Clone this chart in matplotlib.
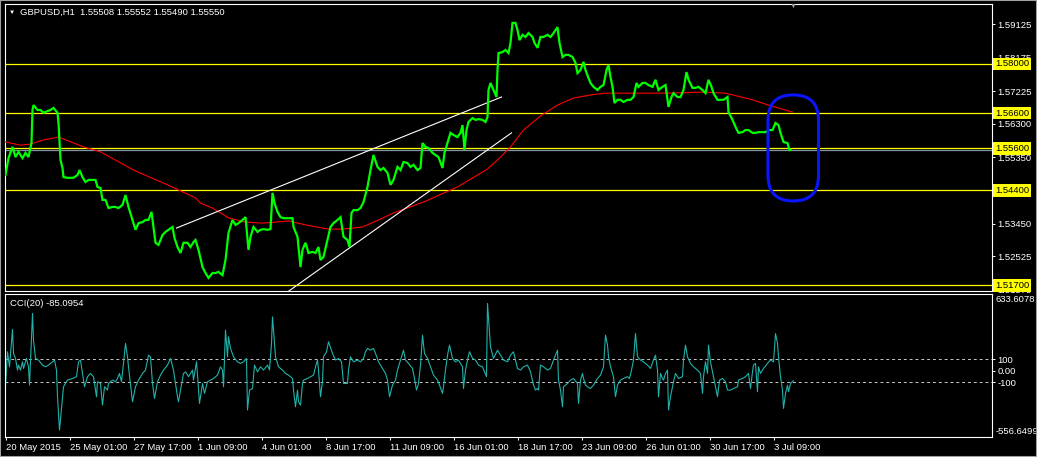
import matplotlib
matplotlib.use("Agg")
import matplotlib.pyplot as plt
from matplotlib.patches import FancyBboxPatch, Rectangle
from matplotlib.transforms import IdentityTransform, blended_transform_factory

plt.rcParams["font.family"] = ["Liberation Sans", "DejaVu Sans"]

# GBPUSD H1, (bar index, price)
price_points = [
    (0, 1.5484), (3, 1.5532), (7, 1.5564), (10, 1.5535), (13, 1.5550), (17, 1.5532),
    (20, 1.5547), (23, 1.5535), (26, 1.5575), (27, 1.5669), (28, 1.5683), (32, 1.5669),
    (35, 1.5669), (38, 1.5661), (42, 1.5666), (45, 1.5669), (48, 1.5675), (52, 1.5661),
    (53, 1.5632), (55, 1.5527), (57, 1.5504), (58, 1.5478), (62, 1.5476), (65, 1.5476),
    (68, 1.5476), (72, 1.5484), (74, 1.5498), (77, 1.5478), (80, 1.5464), (83, 1.5470),
    (87, 1.5470), (90, 1.5470), (92, 1.5450), (95, 1.5447), (97, 1.5413), (100, 1.5413),
    (103, 1.5390), (107, 1.5393), (110, 1.5393), (113, 1.5390), (117, 1.5399), (120, 1.5427),
    (123, 1.5393), (127, 1.5356), (130, 1.5328), (133, 1.5347), (137, 1.5350), (140, 1.5356),
    (143, 1.5356), (146, 1.5379), (148, 1.5336), (150, 1.5291), (153, 1.5285), (157, 1.5313),
    (160, 1.5322), (163, 1.5328), (167, 1.5336), (169, 1.5305), (172, 1.5279), (175, 1.5262),
    (178, 1.5291), (182, 1.5291), (185, 1.5279), (188, 1.5293), (190, 1.5299), (193, 1.5271),
    (197, 1.5222), (200, 1.5205), (203, 1.5191), (207, 1.5205), (210, 1.5205), (213, 1.5208),
    (217, 1.5199), (220, 1.5242), (223, 1.5319), (227, 1.5356), (230, 1.5342), (233, 1.5347),
    (237, 1.5356), (240, 1.5364), (243, 1.5271), (245, 1.5308), (248, 1.5336), (252, 1.5322),
    (255, 1.5328), (258, 1.5330), (262, 1.5328), (265, 1.5330), (267, 1.5433), (269, 1.5404),
    (272, 1.5379), (275, 1.5364), (278, 1.5361), (283, 1.5361), (287, 1.5361), (288, 1.5336),
    (292, 1.5308), (293, 1.5279), (295, 1.5222), (297, 1.5271), (300, 1.5291), (303, 1.5262),
    (307, 1.5265), (310, 1.5262), (313, 1.5279), (315, 1.5242), (318, 1.5251), (322, 1.5299),
    (325, 1.5336), (328, 1.5347), (332, 1.5356), (335, 1.5364), (338, 1.5308), (342, 1.5299),
    (344, 1.5279), (346, 1.5376), (348, 1.5384), (352, 1.5384), (355, 1.5390), (358, 1.5407),
    (362, 1.5450), (365, 1.5498), (368, 1.5541), (372, 1.5507), (375, 1.5498), (378, 1.5504),
    (382, 1.5490), (385, 1.5456), (388, 1.5470), (392, 1.5507), (395, 1.5498), (398, 1.5521),
    (402, 1.5518), (405, 1.5507), (408, 1.5513), (412, 1.5498), (415, 1.5504), (417, 1.5575),
    (420, 1.5564), (423, 1.5561), (427, 1.5547), (430, 1.5541), (433, 1.5535), (437, 1.5504),
    (439, 1.5547), (442, 1.5575), (445, 1.5604), (448, 1.5598), (452, 1.5592), (455, 1.5604),
    (457, 1.5626), (459, 1.5555), (461, 1.5612), (463, 1.5635), (467, 1.5646), (470, 1.5641),
    (473, 1.5643), (477, 1.5641), (480, 1.5635), (482, 1.5649), (483, 1.5726), (485, 1.5746),
    (488, 1.5726), (491, 1.5706), (492, 1.5783), (493, 1.5831), (497, 1.5834), (500, 1.5840),
    (503, 1.5831), (505, 1.5860), (507, 1.5917), (510, 1.5917), (512, 1.5897), (514, 1.5868),
    (517, 1.5883), (520, 1.5877), (523, 1.5888), (527, 1.5877), (529, 1.5860), (532, 1.5846),
    (535, 1.5877), (538, 1.5877), (542, 1.5883), (545, 1.5877), (548, 1.5888), (552, 1.5905),
    (554, 1.5860), (557, 1.5820), (560, 1.5826), (563, 1.5826), (567, 1.5820), (570, 1.5803),
    (572, 1.5774), (575, 1.5783), (578, 1.5806), (580, 1.5783), (583, 1.5760), (585, 1.5746),
    (588, 1.5735), (592, 1.5726), (595, 1.5735), (598, 1.5740), (601, 1.5783), (603, 1.5797),
    (605, 1.5763), (607, 1.5735), (609, 1.5689), (612, 1.5698), (615, 1.5698), (618, 1.5692),
    (622, 1.5698), (625, 1.5698), (628, 1.5706), (631, 1.5746), (633, 1.5735), (637, 1.5746),
    (640, 1.5746), (643, 1.5740), (647, 1.5735), (650, 1.5755), (653, 1.5726), (657, 1.5735),
    (660, 1.5740), (663, 1.5678), (666, 1.5706), (668, 1.5717), (672, 1.5706), (675, 1.5706),
    (678, 1.5726), (681, 1.5777), (683, 1.5755), (687, 1.5732), (690, 1.5732), (693, 1.5735),
    (697, 1.5726), (700, 1.5717), (703, 1.5755), (706, 1.5735), (708, 1.5717), (712, 1.5698),
    (715, 1.5698), (718, 1.5698), (722, 1.5706), (723, 1.5663), (727, 1.5641), (730, 1.5621),
    (733, 1.5604), (737, 1.5606), (740, 1.5612), (743, 1.5612), (747, 1.5604), (750, 1.5604),
    (753, 1.5606), (757, 1.5606), (760, 1.5606), (763, 1.5612), (767, 1.5612), (770, 1.5632),
    (773, 1.5626), (775, 1.5604), (778, 1.5578), (782, 1.5575), (784, 1.5555), (785, 1.5555),
]

# red moving average
ma_points = [
    (0, 1.5578), (15, 1.5569), (25, 1.5572), (38, 1.5584), (53, 1.5592), (78, 1.5564),
    (95, 1.5550), (128, 1.5498), (162, 1.5456), (190, 1.5419), (195, 1.5404), (207, 1.5390),
    (223, 1.5362), (240, 1.5350), (257, 1.5347), (283, 1.5353), (300, 1.5342), (323, 1.5330),
    (337, 1.5330), (357, 1.5336), (373, 1.5356), (388, 1.5376), (418, 1.5407), (452, 1.5450),
    (482, 1.5501), (495, 1.5535), (505, 1.5564), (518, 1.5612), (535, 1.5652), (552, 1.5683),
    (568, 1.5703), (585, 1.5712), (600, 1.5717), (630, 1.5717), (663, 1.5717), (697, 1.5720),
    (720, 1.5717), (747, 1.5698), (763, 1.5683), (787, 1.5663),
]

# CCI(20)
cci_points = [
    (0, -137), (2, 163), (4, 34), (7, 355), (8, 149), (10, 106), (12, 6), (13, 49), (15, 6),
    (17, 77), (18, 20), (21, 106), (23, 34), (24, -123), (27, 492), (28, 263), (30, 106),
    (33, 92), (37, 49), (40, 34), (43, 49), (47, 77), (49, 92), (51, 6), (52, -223), (54, -509),
    (57, -223), (58, -137), (62, -80), (67, -66), (71, -51), (73, 77), (75, 92), (77, -23),
    (79, -137), (82, -51), (85, -23), (88, -51), (91, -223), (92, -94), (95, -109), (97, -295),
    (99, -137), (102, -166), (103, -109), (107, -80), (110, -94), (112, -66), (114, -23),
    (116, -94), (118, 63), (120, 235), (122, 120), (123, 34), (127, -266), (130, -137),
    (133, -80), (137, -23), (140, 6), (143, 134), (145, 120), (147, -109), (149, -237),
    (152, -94), (155, -37), (158, 6), (162, 49), (165, 106), (168, 6), (172, -223), (173, -266),
    (175, -166), (178, -23), (180, -9), (183, -51), (187, 6), (188, -80), (191, 77), (192, -37),
    (194, -280), (197, -109), (199, -194), (202, -94), (205, -80), (208, -66), (212, -37),
    (215, 34), (217, 6), (218, -137), (220, 349), (222, 120), (223, 292), (225, 192), (228, 120),
    (232, 77), (235, 63), (238, 77), (241, 106), (242, -337), (244, -166), (247, -152), (249, 49),
    (252, -9), (255, 34), (258, 6), (262, 49), (264, 6), (266, 235), (267, 463), (268, 349),
    (270, 120), (273, 34), (277, 6), (280, -23), (283, -37), (287, -66), (288, -166), (290, -309),
    (292, -166), (293, -266), (295, -295), (297, -109), (298, -80), (302, -66), (305, -51),
    (308, -37), (310, 34), (312, 92), (313, 6), (315, -223), (317, -94), (318, 120), (321, 163),
    (323, 249), (327, 149), (330, 92), (333, 106), (336, 77), (338, -109), (342, -109), (343, 6),
    (345, 120), (348, 77), (352, 92), (355, 77), (358, 106), (360, 163), (362, 192), (365, 177),
    (368, 192), (370, 149), (373, 77), (377, 20), (380, -23), (382, -80), (384, -223), (387, -123),
    (390, -80), (392, 6), (395, 92), (398, 177), (400, 92), (403, 63), (407, 20), (409, -66),
    (411, -166), (413, -109), (415, 49), (417, 306), (419, 149), (422, 106), (425, 34), (428, -37),
    (432, -80), (434, -123), (437, -194), (438, -137), (440, 6), (442, 134), (444, 220), (447, 106),
    (450, 77), (453, 92), (457, 34), (458, -152), (460, 6), (462, 92), (464, 163), (467, 106),
    (470, 92), (473, 49), (477, 34), (479, -9), (481, -51), (482, 578), (485, 206), (488, 106),
    (492, 177), (495, 134), (498, 92), (502, 77), (505, 134), (508, 163), (510, 92), (512, 20),
    (515, 6), (518, 34), (522, 49), (525, -9), (528, -123), (530, -166), (532, -152), (533, -166),
    (535, 49), (538, 34), (542, 6), (545, 20), (548, 92), (552, 177), (553, -80), (555, -166),
    (557, -309), (558, -137), (562, -109), (565, -80), (568, -66), (572, -109), (573, -280),
    (575, -80), (577, -23), (578, -66), (580, -123), (582, -137), (585, -152), (588, -123),
    (592, -66), (595, -37), (598, 34), (600, 306), (602, 220), (603, 120), (605, 34), (608, -51),
    (610, -223), (612, -123), (615, -80), (618, -66), (622, -51), (624, -66), (626, 6), (628, 92),
    (630, 320), (632, 120), (635, 92), (638, 77), (642, 49), (645, 20), (648, 92), (650, 134),
    (652, 6), (653, -223), (655, -23), (657, -66), (658, -80), (660, -23), (662, 6), (663, -337),
    (665, -223), (668, -94), (670, -23), (673, -66), (677, -51), (678, 92), (680, 220), (682, 120),
    (685, 63), (688, 34), (692, 6), (695, -23), (697, -194), (698, -51), (700, 77), (702, -23),
    (703, 220), (705, 77), (707, -9), (708, -51), (712, -223), (714, -80), (717, -66), (720, -94),
    (722, -166), (725, -166), (728, -152), (732, -137), (733, -80), (737, -66), (740, -51),
    (743, -23), (745, -152), (747, -9), (748, 49), (750, 63), (752, -180), (753, 34), (755, -23),
    (758, 20), (762, 63), (765, 92), (768, 77), (770, 320), (772, 235), (773, 120), (775, -51),
    (777, -166), (778, -323), (780, -195), (782, -123), (783, -180), (785, -109), (788, -85),
]

level_prices = [1.58000, 1.56600, 1.55600, 1.54400, 1.51700]
bid_price = 1.55550
price_ticks = [1.59125, 1.58175, 1.57225, 1.56300, 1.55350, 1.54400, 1.53450, 1.52525, 1.51575]
trend_upper = ([171, 496], [1.5333, 1.5706])
trend_lower = ([282, 506], [1.5151, 1.5604])
ellipse_bars = (762.5, 813)
ellipse_prices = (1.5410, 1.5712)

cci_levels = [100, -100]
cci_min, cci_max = -556.6499, 633.6078

time_ticks = [0, 64, 128, 192, 256, 320, 384, 448, 512, 576, 640, 704, 768]
time_labels = ["20 May 2015", "25 May 01:00", "27 May 17:00", "1 Jun 09:00", "4 Jun 01:00",
               "8 Jun 17:00", "11 Jun 09:00", "16 Jun 01:00", "18 Jun 17:00", "23 Jun 09:00",
               "26 Jun 01:00", "30 Jun 17:00", "3 Jul 09:00"]

W, H = 1037, 457
FS = 6.8
fig = plt.figure(figsize=(W / 100, H / 100), dpi=100, facecolor="black")


def box(x0, y0, x1, y1):
    # pixel box (top-left origin) -> figure fraction rect
    return [x0 / W, 1 - y1 / H, (x1 - x0) / W, (y1 - y0) / H]


ax = fig.add_axes(box(5, 4, 992, 291))
ax2 = fig.add_axes(box(5, 293.5, 992, 437))

for a in (ax, ax2):
    a.set_facecolor("black")
    for s in a.spines.values():
        s.set_color("white")
        s.set_linewidth(0.8)
    a.set_xlim(-0.5, 986.5)
    a.tick_params(colors="white", labelsize=FS, length=2.2, width=0.7, pad=1.5)
    a.yaxis.tick_right()

k = 0.00028468
ax.set_ylim(1.58 - (291 - 64) * k, 1.58 + (64 - 4) * k)
ax.set_xticks([])
ax.set_yticks(price_ticks)
# the white label at a level price sits fully under its yellow label
ax.set_yticklabels(["" if p in level_prices else f"{p:.5f}" for p in price_ticks])

for p in level_prices:
    ax.axhline(p, color="#ffff00", lw=0.9, zorder=2)
ax.axhline(bid_price, color="#8593a8", lw=0.9, zorder=2)

pb, pv = zip(*price_points)
ax.plot(pb, pv, color="#00ff00", lw=1.6, zorder=4, solid_joinstyle="miter")
mb, mv = zip(*ma_points)
ax.plot(mb, mv, color="#ff0000", lw=0.8, zorder=3)
ax.plot(*trend_upper, color="white", lw=0.8, zorder=3)
ax.plot(*trend_lower, color="white", lw=0.8, zorder=3)

# yellow price labels for the horizontal levels
tr = blended_transform_factory(ax.transAxes, ax.transData)
for p in level_prices:
    ax.text(1.003, p, f"{p:.5f}", transform=tr, ha="left", va="center", fontsize=FS,
            color="black", clip_on=False, zorder=10,
            bbox=dict(boxstyle="square,pad=0.18", fc="#ffff00", ec="none"))

# blue rounded box around the last bars
(x0, y0) = ax.transData.transform((ellipse_bars[0], ellipse_prices[0]))
(x1, y1) = ax.transData.transform((ellipse_bars[1], ellipse_prices[1]))
r = (x1 - x0) / 2
fig.add_artist(FancyBboxPatch((x0, y0), x1 - x0, y1 - y0,
                              boxstyle=f"round,pad=0,rounding_size={r}",
                              transform=IdentityTransform(), fill=False,
                              ec="#0a14ff", lw=2.2, zorder=6))

# CCI panel
step = (cci_max - cci_min) / (435.6 - 297)
ax2.set_ylim(cci_min - 1.4 * step, cci_max + 3.5 * step)
ax2.set_yticks([100, 0, -100])
ax2.set_yticklabels(["100", "0.00", "-100"])
tr2 = blended_transform_factory(ax2.transAxes, ax2.transData)
ax2.text(1.004, cci_max - 3 * step, f"{cci_max:.4f}", transform=tr2,
         ha="left", va="center", fontsize=FS, color="white", clip_on=False)
ax2.text(1.004, cci_min + 4 * step, f"{cci_min:.4f}", transform=tr2,
         ha="left", va="center", fontsize=FS, color="white", clip_on=False)
for lv in cci_levels:
    ax2.axhline(lv, color="#c8c8c8", lw=0.7, ls=(0, (3, 3)))
cb, cv = zip(*cci_points)
ax2.plot(cb, cv, color="#20b2aa", lw=0.8)
ax2.set_xticks(time_ticks)
ax2.set_xticklabels(time_labels, ha="left")
ax2.tick_params(axis="x", pad=2)

# header texts
fig.text(9 / W, 1 - 12.5 / H, "\u25bc", color="white", fontsize=4.5, va="center", ha="left")
fig.text(20 / W, 1 - 12.5 / H, "GBPUSD,H1  1.55508 1.55552 1.55490 1.55550", color="white",
         fontsize=FS, va="center", ha="left")
fig.text(10 / W, 1 - 303.5 / H, "CCI(20) -85.0954", color="white", fontsize=FS, va="center", ha="left")
fig.text(793 / W, 1 - 6 / H, "\u25bc", color="#9aa4b0", fontsize=5, va="center", ha="center")

# window frame
fig.add_artist(Rectangle((0, 0), 1, 1, transform=fig.transFigure, fill=False,
                         ec="#a0a0a0", lw=1.5))

fig.savefig("out.png", dpi=100, facecolor="black")
